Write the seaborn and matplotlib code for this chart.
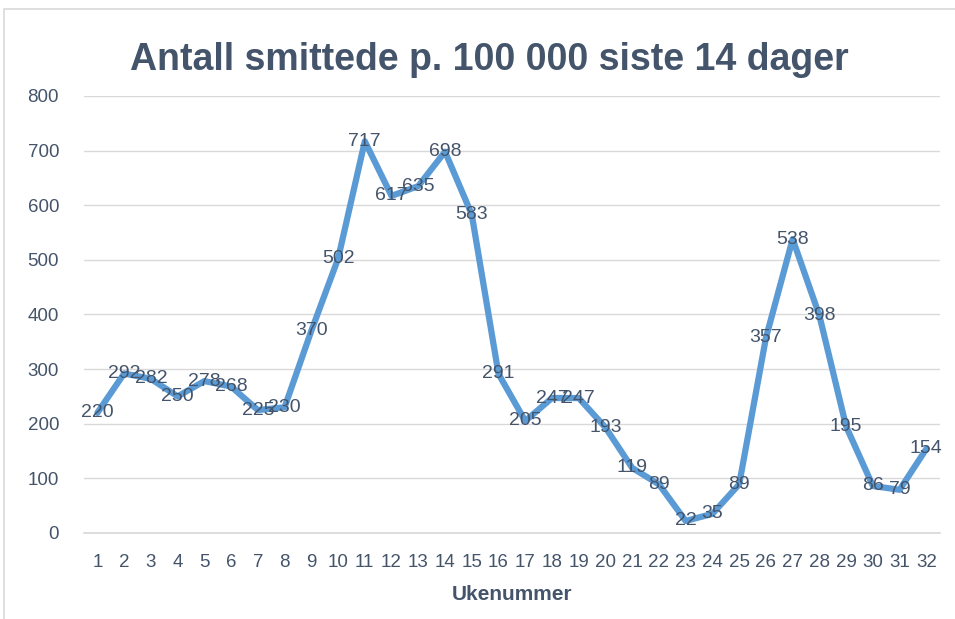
"""Antall smittede p. 100 000 siste 14 dager, per ukenummer."""

import matplotlib.pyplot as plt
import numpy as np
import pandas as pd
import seaborn as sns

# Data
weeks = list(range(1, 33))
cases = [220, 292, 282, 250, 278, 268, 225, 230, 370, 502, 717, 617, 635, 698, 583, 291,
         205, 247, 247, 193, 119, 89, 22, 35, 89, 357, 538, 398, 195, 86, 79, 154]
yticks = [0, 100, 200, 300, 400, 500, 600, 700, 800]

TEXT = "#44546A"
LINE = "#5B9BD5"
GRID = "#D9D9D9"

sns.set_theme(style="white")
plt.rcParams["font.family"] = ["Liberation Sans", "DejaVu Sans"]

df = pd.DataFrame({"week": np.arange(len(weeks)), "cases": cases})

fig = plt.figure(figsize=(9.55, 6.19), dpi=100)
ax = fig.add_axes([0.088, 0.139, 0.896, 0.706])

sns.lineplot(data=df, x="week", y="cases", ax=ax, color=LINE, linewidth=4.5,
             solid_capstyle="round", solid_joinstyle="round")

# data labels sit centred on the points, like the original
for i, v in enumerate(cases):
    ax.text(i, v, str(v), ha="center", va="center", fontsize=14, color=TEXT)

ax.set_xlim(-0.5, len(weeks) - 0.5)
ax.set_ylim(0, 800)
ax.set_yticks(yticks)
ax.set_xticks(np.arange(len(weeks)))
ax.set_xticklabels([str(w) for w in weeks])
ax.set_xticks(np.arange(-0.5, len(weeks)), minor=True)
ax.tick_params(axis="x", which="major", length=0, labelsize=13.5, colors=TEXT, pad=15)
ax.tick_params(axis="x", which="minor", length=10, color=GRID, width=1)
ax.tick_params(axis="y", length=0, labelsize=13.5, colors=TEXT, pad=18)
ax.grid(axis="y", color=GRID, linewidth=1)
ax.set_axisbelow(True)
for s in ["left", "right", "top"]:
    ax.spines[s].set_visible(False)
ax.spines["bottom"].set_color(GRID)

ax.set_xlabel("Ukenummer", fontsize=15, fontweight="bold", color=TEXT, labelpad=10)
ax.set_ylabel("")
fig.text(0.512, 0.903, "Antall smittede p. 100 000 siste 14 dager", ha="center", va="center",
         fontsize=27, fontweight="bold", color=TEXT)

# light frame around the chart
frame = plt.Rectangle((0.004, -0.01), 1.1, 0.995, transform=fig.transFigure, fill=False,
                      edgecolor=GRID, linewidth=1.2)
fig.patches.append(frame)

fig.savefig("out.png", dpi=100)
